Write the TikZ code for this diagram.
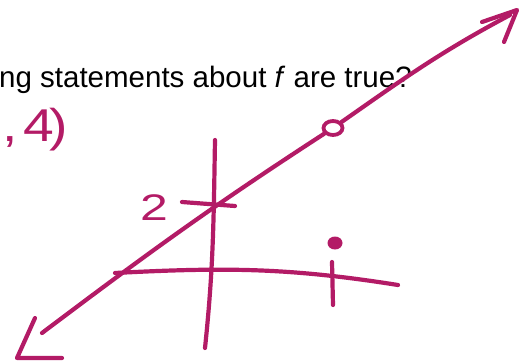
\documentclass[tikz,border=0pt]{standalone}
\usepackage{fontspec}
\setmainfont{Liberation Sans}
\usetikzlibrary{positioning,shapes.geometric}
\definecolor{marker}{HTML}{B31B66}

\begin{document}
\begin{tikzpicture}[x=1pt, y=-1pt,
  ink/.style={draw=marker, line width=4.2pt, line cap=round, line join=round},
  hand/.style={text=marker, inner sep=0pt}]
  \useasboundingbox (0,0) rectangle (528,360);
  % printed question, cut at the left
  \node[anchor=base west, inner sep=0pt, font=\fontsize{29.5}{33}\selectfont] (question) at (-1,87) {ng statements about \textit{f} are true?};
  \node[hand, anchor=base west, font=\fontsize{46}{50}\selectfont] (pair) at (2,141) {\scalebox{1.2}[1]{,\kern5pt4\kern-4pt)}};
  % axes
  \coordinate (xL) at (115,273);
  \coordinate (xR) at (398,285);
  \coordinate (yT) at (215,140);
  \coordinate (yB) at (205,348);
  \draw[ink] (xL) to[out=3, in=171] (xR);
  \draw[ink] (yT) to[out=-91, in=84] (yB);
  % ticks and labels
  \coordinate (t2a) at (182,202);
  \coordinate (t2b) at (235,206);
  \coordinate (t1a) at (332,262);
  \coordinate (t1b) at (333,305);
  \draw[ink] (t2a) -- (t2b);
  \draw[ink] (t1a) -- (t1b);
  \node[hand, font=\fontsize{37}{40}\selectfont] (two) at (154,208) {\scalebox{1.35}[1]{2}};
  % points
  \node[ellipse, draw=marker, line width=3.8pt, minimum width=19pt, minimum height=14pt, inner sep=0pt] (hole) at (333,128) {};
  \node[ellipse, fill=marker, minimum width=15pt, minimum height=13pt, inner sep=0pt] (dot) at (335,243) {};
  % the line
  \coordinate (lowEnd) at (42,333);
  \coordinate (highEnd) at (510,15);
  \draw[ink] (lowEnd) to[out=37, in=213] (hole);
  \draw[ink] (hole) to[out=35, in=208] (highEnd);
  % hand drawn arrow heads
  \coordinate (tipH) at (517,10);
  \coordinate (tipL) at (17,358);
  \draw[ink] (482,22) -- (tipH) -- (504,42);
  \draw[ink] (35,318) -- (tipL) -- (62,358);
\end{tikzpicture}
\end{document}
